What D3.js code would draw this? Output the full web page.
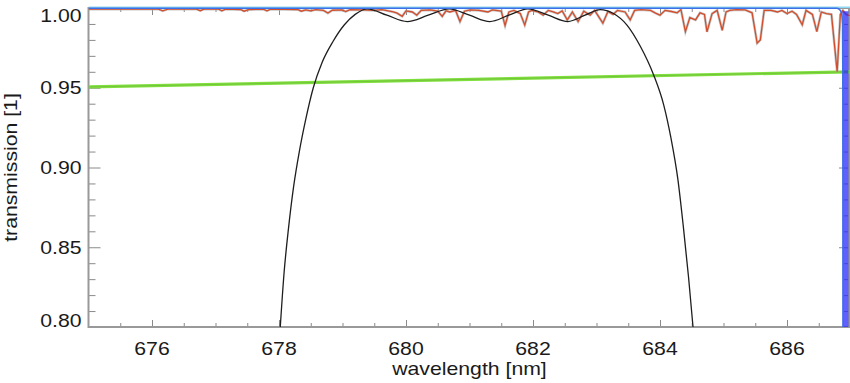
<!DOCTYPE html>
<html>
<head>
<meta charset="utf-8">
<script src="https://cdn.jsdelivr.net/npm/d3@7"></script>
<style>
  html, body { margin: 0; padding: 0; background: #fff; }
  svg { display: block; font-family: "Liberation Sans", Arial, sans-serif; }
</style>
</head>
<body>
<div class="chart"></div>
<script>
const WIDTH = 850;
const HEIGHT = 383;

// Axis ticks
const xMajor = [676, 678, 680, 682, 684, 686];
const xMinor = [675.5, 676.5, 677, 677.5, 678.5, 679, 679.5, 680.5, 681, 681.5,
                682.5, 683, 683.5, 684.5, 685, 685.5, 686.5];
const yMajor = [0.80, 0.85, 0.90, 0.95, 1.00];
const yMinor = [0.81, 0.82, 0.83, 0.84, 0.86, 0.87, 0.88, 0.89, 0.91, 0.92, 0.93, 0.94,
                0.96, 0.97, 0.98, 0.99];
const xLabels = ["676", "678", "680", "682", "684", "686"];
const yLabels = ["0.80", "0.85", "0.90", "0.95", "1.00"];

// Series: [wavelength nm, transmission]
const filterCurve = [
  [678.02, 0.800], [678.08, 0.834], [678.15, 0.862], [678.23, 0.888], [678.32, 0.910],
  [678.42, 0.930], [678.54, 0.950], [678.68, 0.966], [678.85, 0.979], [679.03, 0.9895],
  [679.20, 0.9960], [679.39, 0.9995], [679.70, 0.9955], [680.02, 0.9915],
  [680.35, 0.9955], [680.68, 0.9995], [681.00, 0.9955], [681.32, 0.9915], [681.62, 0.9955],
  [681.92, 0.9995], [682.24, 0.9955], [682.55, 0.9915], [682.82, 0.9955], [683.06, 0.9990],
  [683.26, 0.9967], [683.48, 0.9893], [683.69, 0.9760], [683.90, 0.958], [684.06, 0.939],
  [684.17, 0.919], [684.28, 0.893], [684.37, 0.862], [684.45, 0.831], [684.52, 0.800]
];

const atmosphere = [
  [675.00, 0.9993], [676.10, 0.9993], [676.17, 0.9982], [676.25, 0.9993], [676.70, 0.9993],
  [676.76, 0.9983], [676.82, 0.9993], [677.05, 0.9993], [677.10, 0.9982], [677.16, 0.9993],
  [677.40, 0.9990], [677.45, 0.9980], [677.52, 0.9990], [677.75, 0.9993], [677.81, 0.9982],
  [677.87, 0.9993], [678.30, 0.9990], [678.35, 0.9980], [678.42, 0.9988], [678.50, 0.9982],
  [678.58, 0.9990], [678.70, 0.9985], [678.77, 0.9968], [678.84, 0.9986], [678.99, 0.9988],
  [679.05, 0.9978], [679.12, 0.9990], [679.30, 0.9988], [679.50, 0.9985], [679.62, 0.9990],
  [679.80, 0.9975], [679.86, 0.9968], [679.94, 0.9948], [680.00, 0.9982], [680.10, 0.9975],
  [680.17, 0.9955], [680.24, 0.9985], [680.38, 0.9988], [680.50, 0.9980], [680.57, 0.9947],
  [680.63, 0.9982], [680.69, 0.9975], [680.78, 0.9985], [680.85, 0.9915], [680.92, 0.9980],
  [681.01, 0.9988], [681.15, 0.9985], [681.29, 0.9975], [681.36, 0.9988], [681.50, 0.9980],
  [681.56, 0.9890], [681.62, 0.9975], [681.70, 0.9985], [681.80, 0.9965], [681.87, 0.9893],
  [681.93, 0.9975], [681.98, 0.9985], [682.08, 0.9975], [682.16, 0.9955], [682.24, 0.9985],
  [682.32, 0.9975], [682.39, 0.9965], [682.46, 0.9982], [682.54, 0.9925], [682.62, 0.9975],
  [682.71, 0.9915], [682.80, 0.9980], [682.90, 0.9955], [682.97, 0.9985], [683.10, 0.9905],
  [683.18, 0.9978], [683.26, 0.9960], [683.33, 0.9985], [683.45, 0.9975], [683.53, 0.9925],
  [683.60, 0.9985], [683.70, 0.9990], [683.85, 0.9985], [683.93, 0.9968], [684.00, 0.9955],
  [684.08, 0.9985], [684.18, 0.9978], [684.27, 0.9970], [684.33, 0.9990], [684.40, 0.9852],
  [684.47, 0.9940], [684.56, 0.9925], [684.63, 0.9970], [684.70, 0.9960], [684.74, 0.9850],
  [684.82, 0.9965], [684.90, 0.9985], [684.98, 0.9860], [685.04, 0.9975], [685.10, 0.9985],
  [685.20, 0.9990], [685.34, 0.9988], [685.45, 0.9970], [685.53, 0.9780], [685.58, 0.9800],
  [685.64, 0.9985], [685.75, 0.9985], [685.85, 0.9975], [685.92, 0.9985], [686.00, 0.9965],
  [686.08, 0.9980], [686.15, 0.9960], [686.24, 0.9895], [686.30, 0.9985], [686.40, 0.9960],
  [686.47, 0.9852], [686.54, 0.9975], [686.62, 0.9965], [686.70, 0.9960], [686.79, 0.9600],
  [686.84, 0.9960], [686.88, 0.9985], [686.93, 0.9960], [687.00, 0.9950]
];

const windowLine = [[675.0, 0.9505], [687.0, 0.9600]];
const topLine = [[675.0, 1.0005], [687.0, 1.0005]];
const edgeLine = [
  [675.0, 0.9998], [686.78, 0.9998], [686.83, 0.9990], [686.86, 0.9965], [686.875, 0.990],
  [686.88, 0.950], [686.885, 0.780]
];
const edgeBand = [[686.92, 0.998], [686.92, 0.780]];

// Layout
const plot = { left: 88.5, right: 850.5, top: 8, bottom: 327 };

const x = d3.scaleLinear().domain([675, 687]).range([plot.left, plot.right]);
const y = d3.scaleLinear().domain([0.80, 1.00]).range([plot.bottom, plot.top]);

const svg = d3.select(".chart").append("svg")
  .attr("width", WIDTH)
  .attr("height", HEIGHT);

svg.append("defs").append("clipPath").attr("id", "clip")
  .append("rect")
  .attr("x", plot.left)
  .attr("y", 0)
  .attr("width", plot.right - plot.left)
  .attr("height", plot.bottom);

// Axes (ticks point inward, IDL style)
const axisColor = "#999";
function styleAxis(g) {
  g.select(".domain").remove();
  g.selectAll(".tick line").attr("stroke", "#8a8a8a").attr("stroke-width", 1);
}

svg.append("g").attr("transform", `translate(0,${plot.bottom})`)
  .call(d3.axisBottom(x).tickValues(xMinor).tickSize(-4).tickFormat("")).call(styleAxis);
svg.append("g").attr("transform", `translate(0,${plot.bottom})`)
  .call(d3.axisBottom(x).tickValues(xMajor).tickSize(-7).tickFormat("")).call(styleAxis);
svg.append("g").attr("transform", `translate(0,${plot.top})`)
  .call(d3.axisTop(x).tickValues(xMinor).tickSize(-4).tickFormat("")).call(styleAxis);
svg.append("g").attr("transform", `translate(0,${plot.top})`)
  .call(d3.axisTop(x).tickValues(xMajor).tickSize(-7).tickFormat("")).call(styleAxis);
svg.append("g").attr("transform", `translate(${plot.left},0)`)
  .call(d3.axisLeft(y).tickValues(yMinor).tickSize(-7).tickFormat("")).call(styleAxis);
svg.append("g").attr("transform", `translate(${plot.left},0)`)
  .call(d3.axisLeft(y).tickValues(yMajor).tickSize(-12).tickFormat("")).call(styleAxis);
svg.append("g").attr("transform", `translate(${plot.right - 1.5},0)`)
  .call(d3.axisRight(y).tickValues(yMinor).tickSize(-5).tickFormat("")).call(styleAxis);
svg.append("g").attr("transform", `translate(${plot.right - 1.5},0)`)
  .call(d3.axisRight(y).tickValues(yMajor).tickSize(-10).tickFormat("")).call(styleAxis);

svg.append("rect")
  .attr("x", plot.left).attr("y", plot.top)
  .attr("width", plot.right - plot.left - 1.5).attr("height", plot.bottom - plot.top)
  .attr("fill", "none").attr("stroke", axisColor).attr("stroke-width", 2);

// Curves
const line = d3.line().x(d => x(d[0])).y(d => y(d[1]));
const smooth = d3.line().x(d => x(d[0])).y(d => y(d[1])).curve(d3.curveMonotoneX);
const marks = svg.append("g").attr("clip-path", "url(#clip)");

marks.append("path").datum(windowLine).attr("d", line)
  .attr("fill", "none").attr("stroke", "#80e03e").attr("stroke-width", 3.2);
marks.append("path").datum(windowLine).attr("d", line)
  .attr("fill", "none").attr("stroke", "#5f9a38").attr("stroke-width", 0.8).attr("opacity", 0.5);

marks.append("path").datum(atmosphere).attr("d", line)
  .attr("fill", "none").attr("stroke", "#b0b0b0").attr("stroke-width", 2.6).attr("opacity", 0.7);
marks.append("path").datum(atmosphere).attr("d", line)
  .attr("fill", "none").attr("stroke", "#d24e2c").attr("stroke-width", 1.3);

marks.append("path").datum(filterCurve).attr("d", smooth)
  .attr("fill", "none").attr("stroke", "#1e1e1e").attr("stroke-width", 1.3);

marks.append("path").datum(topLine).attr("d", line)
  .attr("fill", "none").attr("stroke", "#8fd8f2").attr("stroke-width", 1.6);
marks.append("path").datum(edgeBand).attr("d", line)
  .attr("fill", "none").attr("stroke", "#2b2bff").attr("stroke-width", 6).attr("opacity", 0.75);
marks.append("path").datum(edgeLine).attr("d", smooth)
  .attr("fill", "none").attr("stroke", "#3d6fe6").attr("stroke-width", 1.6);

// Labels
const SX = 1.18; // horizontal stretch of the original lettering
const label = svg.append("g").attr("fill", "#1a1a1a").style("font-size", "18px");

label.selectAll(".xl").data(xMajor).join("text")
  .attr("class", "xl")
  .attr("text-anchor", "middle")
  .attr("transform", d => `translate(${x(d)},${plot.bottom + 28}) scale(${SX},1)`)
  .text((d, i) => xLabels[i]);

label.selectAll(".yl").data(yMajor).join("text")
  .attr("class", "yl")
  .attr("text-anchor", "end")
  .attr("transform", (d, i) => {
    const shift = i === 0 ? -7 : i === yMajor.length - 1 ? 7 : 0;
    return `translate(${plot.left - 7},${y(d) + shift + 6.5}) scale(${SX},1)`;
  })
  .text((d, i) => yLabels[i]);

label.append("text")
  .attr("text-anchor", "middle")
  .attr("transform", `translate(${(plot.left + plot.right) / 2},375) scale(${SX},1)`)
  .text("wavelength [nm]");

label.append("text")
  .attr("text-anchor", "middle")
  .attr("transform", `translate(17,${(plot.top + plot.bottom) / 2}) rotate(-90) scale(${SX},1)`)
  .text("transmission [1]");
</script>
</body>
</html>
